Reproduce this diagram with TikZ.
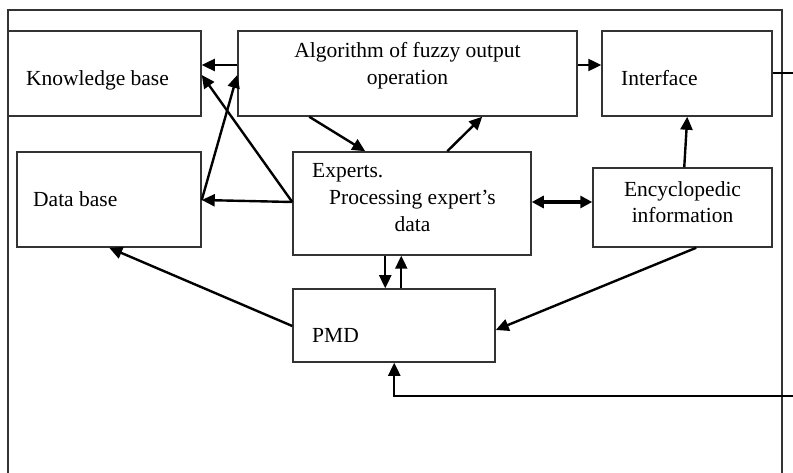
\documentclass[tikz,border=0pt]{standalone}
\usepackage{fontspec}
\setmainfont{Liberation Serif}
\usetikzlibrary{arrows.meta,calc}
\begin{document}
\begin{tikzpicture}[x=1pt,y=-1pt,
  box/.style={draw=black!80,line width=1.5pt,inner sep=0pt,rectangle},
  lbl/.style={inner sep=0pt,anchor=base,font=\fontsize{21.5}{27}\selectfont},
  lblw/.style={lbl,anchor=base west},
  arr/.style={line width=2.4pt,-{Triangle[length=13pt,width=12pt]}},
  darr/.style={line width=3.6pt,{Triangle[length=12pt,width=12pt]}-{Triangle[length=12pt,width=12pt]}},
  plain/.style={line width=2.4pt}]
\useasboundingbox (0,0) rectangle (793,473);
\fill[white] (0,0) rectangle (793,473);

% outer frame, open at the bottom
\draw[black!80,line width=1.5pt] (8,473) -- (8,10) -- (782,10) -- (782,473);

% blocks
\node[box,minimum width=193pt,minimum height=85pt] (kb)   at (104.5,73.5) {};
\node[box,minimum width=339pt,minimum height=85pt] (alg)  at (407.5,73.5) {};
\node[box,minimum width=170pt,minimum height=85pt] (intf) at (687,73.5) {};
\node[box,minimum width=184pt,minimum height=95pt] (db)   at (109,199.5) {};
\node[box,minimum width=238pt,minimum height=103pt] (exp) at (412,203.5) {};
\node[box,minimum width=179pt,minimum height=79pt] (enc)  at (682.5,207.5) {};
\node[box,minimum width=202pt,minimum height=73pt] (pmd)  at (394,325.5) {};

% block texts
\node[lblw] (kbt) at (26,86) {Knowledge base};
\node[lbl] (algt1) at (407.5,58) {Algorithm of fuzzy output};
\node[lbl] (algt2) at (407.5,85) {operation};
\node[lblw] (intft) at (621,86) {Interface};
\node[lblw] (dbt) at (33,207) {Data base};
\node[lblw] (expt1) at (312,178) {Experts.};
\node[lbl] (expt2) at (412.5,205) {Processing expert's};
\node[lbl] (expt3) at (412.5,232) {data};
\node[lbl] (enct1) at (682.5,197) {Encyclopedic};
\node[lbl] (enct2) at (682.5,223) {information};
\node[lblw] (pmdt) at (312,342) {PMD};

% free ends leaving the frame on the right
\coordinate (outI) at (793,73);
\coordinate (inP) at (793,396);

% connectors
\draw[arr] ([yshift=8.5pt]alg.west) -- ([yshift=8.5pt]kb.east);
\draw[arr] ([yshift=1.5pt]exp.west) -- ([yshift=-1.5pt]kb.east);
\draw[arr] ([yshift=-0.5pt]db.east) -- ([yshift=-1.5pt]alg.west);
\draw[arr] ([yshift=1.5pt]exp.west) -- ([yshift=-0.5pt]db.east);
\draw[arr] ([xshift=72pt]alg.south west) -- ([xshift=73pt]exp.north west);
\draw[arr] ([xshift=155pt]exp.north west) -- ([xshift=245pt]alg.south west);
\draw[arr] ([yshift=8.5pt]alg.east) -- ([yshift=8.5pt]intf.west);
\draw[plain] ([yshift=0.5pt]intf.east) -- (outI);
\draw[arr] ([xshift=92pt]enc.north west) -- ([xshift=86pt]intf.south west);
\draw[darr] ([yshift=1.5pt]exp.east) -- ([yshift=5.5pt]enc.west);
\draw[arr] ([xshift=93pt]exp.south west) -- ([xshift=93pt]pmd.north west);
\draw[arr] ([xshift=109pt]pmd.north west) -- ([xshift=109pt]exp.south west);
\draw[arr] ([xshift=104pt]enc.south west) -- ([yshift=-4.5pt]pmd.east);
\draw[arr] ([yshift=-0.5pt]pmd.west) -- ([xshift=93pt]db.south west);
\draw[arr] (inP) -| ([xshift=102pt]pmd.south west);
\end{tikzpicture}
\end{document}
